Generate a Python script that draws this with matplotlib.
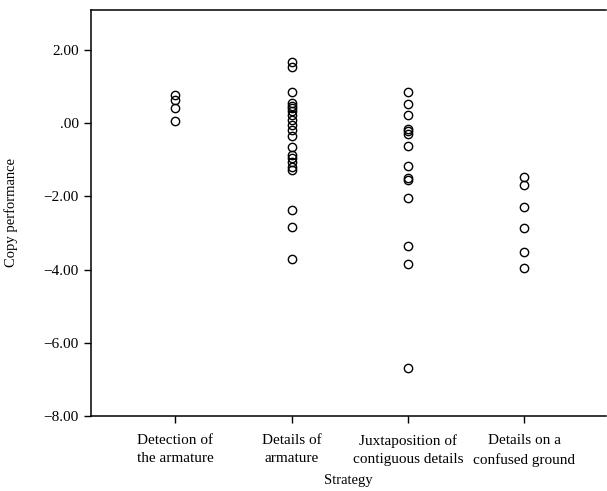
import numpy as np
import matplotlib.pyplot as plt

# Kategorie strategii
categories = ["Detection of\nthe armature", "Details of\narmature",
              "Juxtaposition of\ncontiguous details", "Details on a\nconfused ground"]

# Wyniki
detection = [0.78, 0.63, 0.42, 0.06]
details_armature = [1.66, 1.54, 0.85, 0.54, 0.47, 0.42, 0.34, 0.22, 0.08, -0.05,
                    -0.19, -0.35, -0.66, -0.87, -0.96, -1.05, -1.19, -1.28,
                    -2.36, -2.85, -3.70]
juxtaposition = [0.85, 0.52, 0.22, -0.15, -0.22, -0.30, -0.62, -1.17, -1.49,
                 -1.56, -2.04, -3.35, -3.86, -6.69]
confused_ground = [-1.47, -1.68, -2.29, -2.86, -3.52, -3.95]

groups = [detection, details_armature, juxtaposition, confused_ground]

yticks = [2, 0, -2, -4, -6, -8]
ytick_labels = ["2.00", ".00", "\u22122.00", "\u22124.00", "\u22126.00", "\u22128.00"]

plt.rcParams["font.family"] = ["Liberation Serif", "DejaVu Serif"]

fig = plt.figure(figsize=(6.07, 4.91), dpi=100)
ax = fig.add_axes([0.150, 0.153, 0.848, 0.827])

for i, vals in enumerate(groups):
    ax.plot(np.full(len(vals), i + 1), vals, "o", mfc="none", mec="black",
            mew=1.0, ms=6, linestyle="none")

ax.set_xlim(0.275, 4.7)
ax.set_ylim(-8, 3.1)
ax.set_xticks(range(1, len(categories) + 1))
ax.set_xticklabels(categories, fontsize=11, linespacing=1.55)
ax.set_yticks(yticks)
ax.set_yticklabels(ytick_labels, fontsize=11)
ax.tick_params(axis="x", direction="out", length=5, width=1, pad=8)
ax.tick_params(axis="y", direction="out", length=5, width=1, pad=4)
ax.spines["right"].set_visible(False)
for s in ["left", "top", "bottom"]:
    ax.spines[s].set_linewidth(1.1)

ax.set_xlabel("Strategy", fontsize=10.5, labelpad=5)
ax.set_ylabel("Copy performance", fontsize=10.5, labelpad=18)

fig.savefig("out.png", dpi=100)
